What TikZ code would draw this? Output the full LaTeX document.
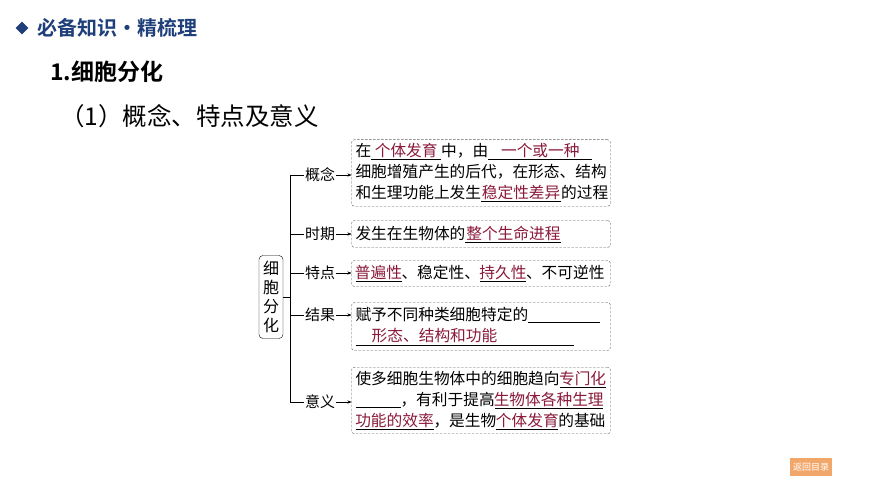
\documentclass[tikz,border=0pt]{standalone}
\usepackage{fontspec}
\setmainfont{Noto Sans CJK SC}
\newfontfamily\titlefont{Noto Sans CJK SC Bold}
\usetikzlibrary{arrows.meta}
\definecolor{headblue}{HTML}{1F3F7A}
\definecolor{ansred}{HTML}{8B1A3A}
\definecolor{boxgray}{HTML}{606060}
\definecolor{btnorange}{HTML}{F2A76A}
\newcommand{\ans}[2]{\underline{\makebox[#1pt][c]{\color{ansred}#2}}}
\begin{document}
\begin{tikzpicture}[x=1pt,y=-1pt,inner sep=0pt,outer sep=0pt,
textbox/.style={draw=boxgray,dash pattern=on 2.5pt off 1.5pt,rounded corners=3pt,inner sep=4pt,text width=251pt,
  align=left,font=\fontsize{15.7}{21}\selectfont,minimum width=258pt},
branch/.style={font=\fontsize{15}{18}\selectfont,inner sep=1pt},
link/.style={-{Stealth[length=4pt,width=3pt]},thin}]
\useasboundingbox (0,0) rectangle (870,489);
\fill[white] (0,0) rectangle (870,489);
\draw (22,28) node[fill=headblue,rotate=45,minimum width=9pt,minimum height=9pt] (dia) {};
\draw (37,28) node[anchor=west,text=headblue,font=\titlefont\fontsize{20}{22}\selectfont] (head) {必备知识·精梳理};
\draw (50,72) node[anchor=west,font=\titlefont\fontsize{23}{26}\selectfont] (title) {1.细胞分化};
\draw (60,116) node[anchor=west,font=\fontsize{24.5}{28}\selectfont] (sub) {（1）概念、特点及意义};

\draw (271,297) node[draw,rounded corners=4pt,minimum width=24pt,minimum height=83pt,align=center,
  font=\fontsize{16}{19}\selectfont] (root) {细\\胞\\分\\化};

\draw (481,173) node[textbox,minimum height=65pt] (B1)
  {在\ans{70}{个体发育}中，由\ans{104}{一个或一种}\\细胞增殖产生的后代，在形态、结构\\和生理功能上发生\ans{80}{稳定性差异}的过程};
\draw (481,234) node[textbox,minimum height=27pt] (B2) {发生在生物体的\ans{96}{整个生命进程}};
\draw (481,273.5) node[textbox,minimum height=26pt] (B3) {\ans{46}{普遍性}、稳定性、\ans{46}{持久性}、不可逆性};
\draw (481,326.5) node[textbox,minimum height=48pt] (B4)
  {赋予不同种类细胞特定的\ans{72}{}\\\ans{218}{形态、结构和功能\hspace{60pt}}};
\draw (481,400.5) node[textbox,minimum height=66pt] (B5)
  {使多细胞生物体中的细胞趋向\ans{46}{专门化}\\\ans{45}{}，有利于提高\ans{108}{生物体各种生理}\\\ans{78}{功能的效率}，是生物\ans{62}{个体发育}的基础};

\draw (320,175) node[branch] (L1) {概念};
\draw (320,234) node[branch] (L2) {时期};
\draw (320,273) node[branch] (L3) {特点};
\draw (320,315) node[branch] (L4) {结果};
\draw (320,402) node[branch] (L5) {意义};

\coordinate (top) at (290,175);
\coordinate (bot) at (290,402);
\draw[thin] (top) -- (bot);
\draw[thin] (root.east) -- (root.east -| top);
\foreach \n in {1,...,5}{
  \draw[thin] (L\n.west -| top) -- (L\n.west);
  \draw[link] (L\n.east) -- (L\n.east -| B1.west);
}

\draw (811,467) node[fill=btnorange,minimum width=42pt,minimum height=18pt,
  font=\fontsize{9}{10}\selectfont,text=white] (back) {返回目录};
\end{tikzpicture}
\end{document}
